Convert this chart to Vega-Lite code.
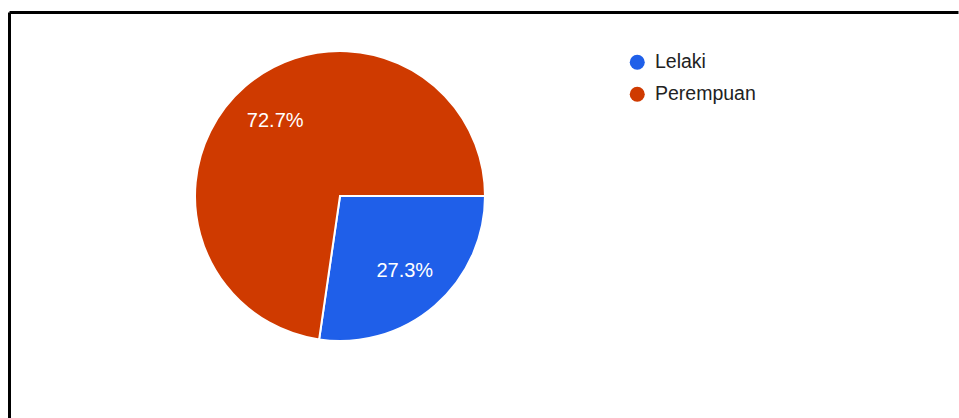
{
  "$schema": "https://vega.github.io/schema/vega-lite/v6.json",
  "width": 959,
  "height": 418,
  "autosize": {"type": "fit", "contains": "padding"},
  "padding": {"left": 9.5, "top": 12.5, "right": 0.5, "bottom": 0},
  "background": "white",
  "view": {"stroke": null, "fill": "white"},
  "config": {
    "font": "Liberation Sans",
    "axis": {
      "domain": true,
      "domainColor": "black",
      "domainWidth": 3,
      "domainCap": "butt",
      "translate": 0,
      "ticks": false,
      "labels": false,
      "grid": false,
      "title": null
    }
  },
  "data": {
    "values": [
      {"jantina": "Lelaki", "peratus": 27.3, "label": "27.3%"},
      {"jantina": "Perempuan", "peratus": 72.7, "label": "72.7%"}
    ]
  },
  "layer": [
    {
      "mark": {"type": "point", "opacity": 0},
      "encoding": {
        "x": {"field": "peratus", "type": "quantitative", "axis": {"orient": "top"}},
        "y": {"field": "jantina", "type": "nominal", "axis": {"orient": "left"}}
      }
    },
    {
      "encoding": {
        "theta": {
          "field": "peratus",
          "type": "quantitative",
          "stack": true,
          "scale": {"range": [1.5708, 7.854]}
        },
        "order": {"field": "jantina", "type": "nominal"},
        "color": {
          "field": "jantina",
          "type": "nominal",
          "scale": {"domain": ["Lelaki", "Perempuan"], "range": ["#1f5fe9", "#cf3a00"]},
          "legend": {
            "title": null,
            "orient": "none",
            "legendX": 618,
            "legendY": 40,
            "symbolType": "circle",
            "symbolSize": 225,
            "symbolStrokeWidth": 0,
            "labelFontSize": 19.5,
            "labelColor": "#222222",
            "labelOffset": 8,
            "rowPadding": 11,
            "padding": 0
          }
        }
      },
      "layer": [
        {
          "mark": {"type": "arc", "outerRadius": 145, "x": 330.5, "y": 183.5, "stroke": "white", "strokeWidth": 2}
        },
        {
          "mark": {"type": "text", "radius": 99, "x": 330.5, "y": 183.5, "fontSize": 20, "fill": "white", "align": "center", "baseline": "middle"},
          "encoding": {"text": {"field": "label"}}
        }
      ]
    }
  ]
}
